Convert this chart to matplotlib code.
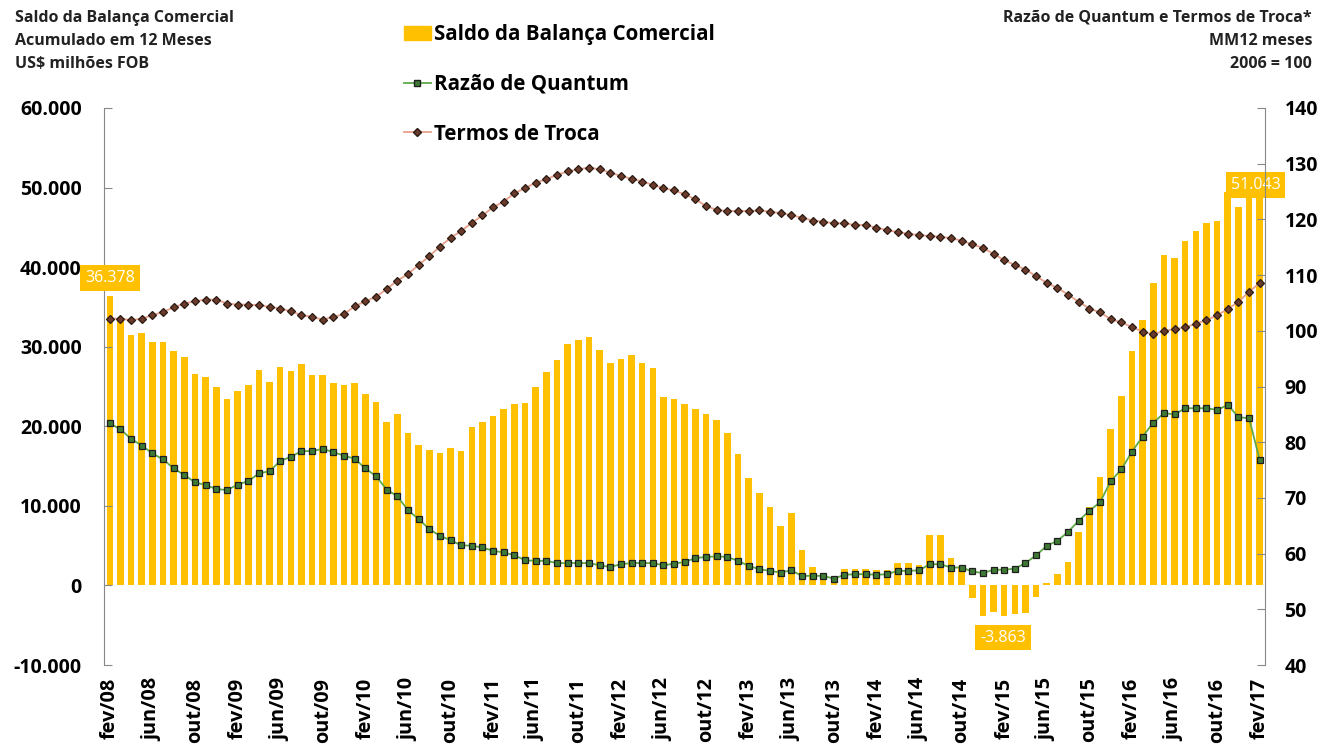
import numpy as np
import matplotlib
matplotlib.use("Agg")
import matplotlib.pyplot as plt
from matplotlib.patches import Patch
from matplotlib.lines import Line2D
from matplotlib.ticker import FuncFormatter

plt.rcParams['font.family'] = ['Open Sans', 'DejaVu Sans']

# saldo acumulado 12 meses, US$ milhoes FOB (fev/08 .. fev/17)
saldo = [36378, 33300, 31500, 31700, 30600, 30600, 29400, 28700, 26600, 26200,
         24900, 23400, 24400, 25200, 27100, 25600, 27400, 27000, 27800, 26400,
         26400, 25400, 25200, 25500, 24100, 23100, 20600, 21500, 19200, 17600,
         17000, 16700, 17300, 16900, 19900, 20600, 21300, 22200, 22800, 22900,
         25000, 26800, 28300, 30400, 30800, 31200, 29600, 27900, 28400, 28900,
         27900, 27300, 23700, 23400, 22800, 22200, 21500, 20800, 19200, 16500,
         13500, 11600, 9800, 7500, 9100, 4400, 2300, 1500, 1000, 2100,
         2100, 2100, 1900, 1900, 2800, 2800, 2600, 6300, 6300, 3400,
         2500, -1600, -3800, -3300, -3863, -3600, -3500, -1400, 300, 1400,
         2900, 6700, 9900, 13600, 19600, 23800, 29500, 33400, 38000, 41500,
         41100, 43300, 44600, 45500, 45800, 49500, 47600, 49500, 51043]

# razao de quantum (MM12, 2006 = 100)
quantum = [83.4, 82.3, 80.6, 79.4, 78.0, 76.9, 75.3, 74.1, 72.8, 72.3,
           71.6, 71.4, 72.4, 73.0, 74.4, 74.8, 76.6, 77.4, 78.4, 78.4,
           78.8, 78.2, 77.6, 77.0, 75.3, 73.9, 71.5, 70.3, 67.8, 66.2,
           64.4, 63.2, 62.4, 61.5, 61.4, 61.1, 60.5, 60.2, 59.7, 58.8,
           58.7, 58.7, 58.3, 58.3, 58.3, 58.3, 57.9, 57.6, 58.1, 58.3,
           58.3, 58.3, 57.9, 58.2, 58.5, 59.2, 59.4, 59.5, 59.4, 58.7,
           57.8, 57.2, 56.9, 56.6, 57.0, 56.0, 56.0, 56.0, 55.5, 56.2,
           56.3, 56.3, 56.2, 56.3, 56.9, 56.9, 57.0, 58.1, 58.1, 57.5,
           57.5, 56.8, 56.5, 57.1, 57.1, 57.3, 58.3, 59.7, 61.4, 62.3,
           63.9, 65.9, 67.7, 69.2, 73.0, 75.1, 78.3, 81.0, 83.5, 85.2,
           85.0, 86.1, 86.1, 86.1, 85.8, 86.7, 84.5, 84.3, 76.8]

# termos de troca (MM12, 2006 = 100)
termos = [102.2, 102.2, 101.9, 102.2, 102.8, 103.4, 104.2, 104.9, 105.3, 105.6,
          105.6, 104.9, 104.7, 104.7, 104.6, 104.3, 104.0, 103.5, 102.8, 102.5,
          102.0, 102.5, 103.0, 104.4, 105.3, 106.1, 107.5, 109.0, 110.2, 111.8,
          113.4, 115.1, 116.7, 117.9, 119.4, 120.7, 122.2, 123.2, 124.7, 125.6,
          126.6, 127.2, 128.0, 128.6, 129.0, 129.3, 129.0, 128.4, 127.8, 127.3,
          126.8, 126.2, 125.6, 125.2, 124.5, 123.6, 122.4, 121.7, 121.5, 121.5,
          121.5, 121.6, 121.4, 121.1, 120.8, 120.3, 119.8, 119.6, 119.3, 119.3,
          119.0, 119.0, 118.5, 118.1, 117.7, 117.4, 117.2, 117.0, 116.9, 116.6,
          116.2, 115.5, 114.9, 113.8, 112.7, 111.8, 111.0, 109.8, 108.6, 107.7,
          106.5, 105.2, 104.0, 103.3, 102.1, 101.5, 100.7, 99.8, 99.4, 100.0,
          100.3, 100.6, 101.3, 101.9, 102.8, 103.9, 105.2, 107.0, 108.6]

tick_labels = ["fev/08", "jun/08", "out/08", "fev/09", "jun/09", "out/09", "fev/10",
               "jun/10", "out/10", "fev/11", "jun/11", "out/11", "fev/12", "jun/12",
               "out/12", "fev/13", "jun/13", "out/13", "fev/14", "jun/14", "out/14",
               "fev/15", "jun/15", "out/15", "fev/16", "jun/16", "out/16", "fev/17"]

gold = '#FFC000'
green_line = '#5FA848'
brown_line = '#E8A08A'

fig = plt.figure(figsize=(13.28, 7.51), dpi=100)
ax = fig.add_axes([0.0783, 0.1145, 0.8743, 0.7417])
x = np.arange(len(saldo))

ax.bar(x, saldo, width=0.62, color=gold, zorder=1)
ax.set_xlim(-0.55, len(saldo) - 0.5)
ax.set_ylim(-10000, 60000)
ax.set_yticks(np.arange(-10000, 60001, 10000))
ax.yaxis.set_major_formatter(FuncFormatter(lambda v, p: f"{v:,.0f}".replace(",", ".")))
ax.set_xticks(np.arange(0, len(saldo), 4))
ax.set_xticklabels(tick_labels, rotation=90, fontsize=14.3, fontweight='bold')
ax.tick_params(axis='x', length=0, pad=9)
ax.tick_params(axis='y', direction='in', length=6, color='#888888', pad=16,
               labelsize=14)
for lab in ax.get_yticklabels():
    lab.set_fontweight('bold')
for s in ['top', 'bottom', 'right']:
    ax.spines[s].set_visible(False)
ax.spines['left'].set_color('#888888')

ax2 = ax.twinx()
ax2.set_ylim(40, 140)
ax2.set_yticks(np.arange(40, 141, 10))
ax2.plot(x, quantum, color=green_line, lw=1.3, marker='s', ms=4.2,
         mfc='#3F7A35', mec='#1E1E1E', mew=0.9, zorder=3)
ax2.plot(x, termos, color=brown_line, lw=1.3, marker='D', ms=4.4,
         mfc='#6A3B2C', mec='#2A1A12', mew=0.9, zorder=3)
ax2.tick_params(axis='y', direction='in', length=6, color='#888888', pad=14,
                labelsize=14)
for lab in ax2.get_yticklabels():
    lab.set_fontweight('bold')
for s in ['top', 'bottom', 'left']:
    ax2.spines[s].set_visible(False)
ax2.spines['right'].set_color('#888888')

# data labels
box = dict(boxstyle='square,pad=0.3', fc=gold, ec='none')
ax.text(0, 38600, "36.378", ha='center', va='center', color='white', fontsize=11.5,
        bbox=box, zorder=5)
ax.text(107.6, 50300, "51.043", ha='center', va='center', color='white', fontsize=11.5,
        bbox=box, zorder=5, clip_on=False)
ax.text(83.9, -6550, "-3.863", ha='center', va='center', color='white', fontsize=11.5,
        bbox=box, zorder=5)

# legend
handles = [Patch(color=gold),
           Line2D([], [], color=green_line, lw=1.3, marker='s', ms=4, mfc='#3F7A35', mec='#1E1E1E'),
           Line2D([], [], color=brown_line, lw=1.3, marker='D', ms=4, mfc='#6A3B2C', mec='#2A1A12')]
labels = ["Saldo da Balança Comercial", "Razão de Quantum", "Termos de Troca"]
leg = fig.legend(handles, labels, loc='upper left', bbox_to_anchor=(0.2977, 0.979),
                 frameon=False, fontsize=14.8, labelspacing=1.4, handlelength=1.35,
                 handletextpad=0.15, borderaxespad=0)
for t in leg.get_texts():
    t.set_fontweight('bold')

fig.text(0.0113, 0.987, "Saldo da Balança Comercial\nAcumulado em 12 Meses\nUS$ milhões FOB",
         ha='left', va='top', fontsize=11.5, fontweight='bold', linespacing=1.6, color='#222222')
fig.text(0.988, 0.987, "Razão de Quantum e Termos de Troca*\nMM12 meses\n2006 = 100",
         ha='right', va='top', fontsize=11.5, fontweight='bold', linespacing=1.6,
         multialignment='right', color='#222222')

fig.savefig("out.png", dpi=100, facecolor='white')
